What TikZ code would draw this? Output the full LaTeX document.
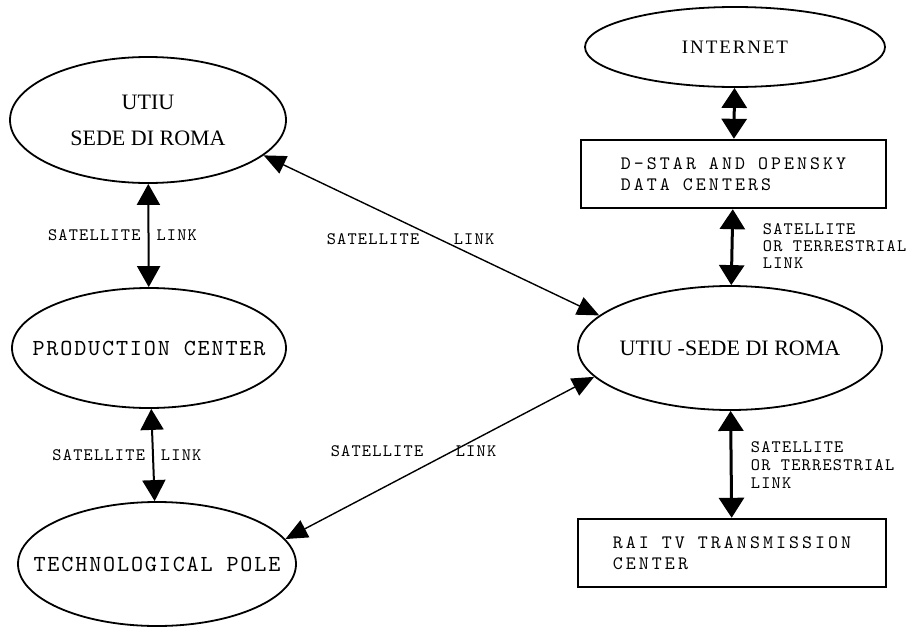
\documentclass[tikz,border=0pt]{standalone}
\usepackage{fontspec}
\setmainfont{Liberation Serif}
\newfontfamily\spacedfont[LetterSpace=10]{Liberation Serif}
\newfontfamily\slabfont{lmmono10-regular.otf}[LetterSpace=7]
\newfontfamily\polefont{lmmono10-regular.otf}[LetterSpace=8]
\newfontfamily\boxfont{lmmono10-regular.otf}[LetterSpace=16]
\usetikzlibrary{shapes.geometric, arrows.meta}

\begin{document}
\begin{tikzpicture}
[x=1pt, y=-1pt, line width=1.8pt,
site/.style={ellipse, draw, inner xsep=-40pt, inner ysep=0pt, align=center},
datbox/.style={rectangle, draw, line width=2.4pt, inner sep=0pt, align=left,
    minimum height=68pt, font=\boxfont\fontsize{19}{21}\selectfont},
link/.style={{Triangle[length=21pt,width=23pt]}-{Triangle[length=21pt,width=23pt]}, line width=2pt},
thick link/.style={{Triangle[length=20pt,width=25pt]}-{Triangle[length=20pt,width=25pt]}, line width=3pt},
diag/.style={{Triangle[length=22pt,width=19pt]}-{Triangle[length=22pt,width=19pt]}, line width=1.4pt},
tag/.style={inner xsep=7pt, inner ysep=1pt, font=\slabfont\fontsize{17.5}{17}\selectfont}]

\useasboundingbox (0,0) rectangle (923,629);

% left column
\node[site, minimum width=276pt, minimum height=126pt, font=\fontsize{22}{36}\selectfont]
    (romaleft) at (148,120) {UTIU\\SEDE DI ROMA};
\node[site, minimum width=274pt, minimum height=120pt, font=\polefont\fontsize{23}{24}\selectfont]
    (prod) at (149,348) {PRODUCTION CENTER};
\node[site, minimum width=278pt, minimum height=124pt, font=\polefont\fontsize{23}{24}\selectfont]
    (pole) at (157,564) {TECHNOLOGICAL POLE};

% right column
\node[site, minimum width=300pt, minimum height=80pt, font=\spacedfont\fontsize{19}{20}\selectfont]
    (internet) at (735,47) {INTERNET};
\node[datbox, minimum width=305pt] (datactr) at (733.5,174) {D-STAR AND OPENSKY\\DATA CENTERS};
\node[site, minimum width=304pt, minimum height=124pt, font=\fontsize{22}{24}\selectfont]
    (utiu) at (730,348) {UTIU -SEDE DI ROMA};
\node[datbox, minimum width=308pt] (rai) at (732,553) {RAI TV TRANSMISSION\\CENTER};

\draw[link] (romaleft) -- node[tag, left] (sat1) {SATELLITE} node[tag, right] (lnk1) {LINK} (prod);
\draw[link] (prod) -- node[tag, left] (sat2) {SATELLITE} node[tag, right] (lnk2) {LINK} (pole);

\draw[thick link] (internet) -- (datactr);
\draw[thick link] (datactr) -- (utiu);
\draw[thick link] (utiu) -- (rai);

\draw[diag] (romaleft.-17) -- (utiu.166);
\draw[diag] (utiu.192) -- (pole.11);

\node[tag] (sat3) at (373,239) {SATELLITE};
\node[tag] (lnk3) at (474,239) {LINK};
\node[tag] (sat4) at (377,451) {SATELLITE};
\node[tag] (lnk4) at (476,451) {LINK};

\node[tag, anchor=west, align=left] (sat5) at (755,246) {SATELLITE\\OR TERRESTRIAL\\LINK};
\node[tag, anchor=west, align=left, font=\slabfont\fontsize{17.5}{18}\selectfont]
    (sat6) at (743,465) {SATELLITE\\OR TERRESTRIAL\\LINK};

\end{tikzpicture}
\end{document}
